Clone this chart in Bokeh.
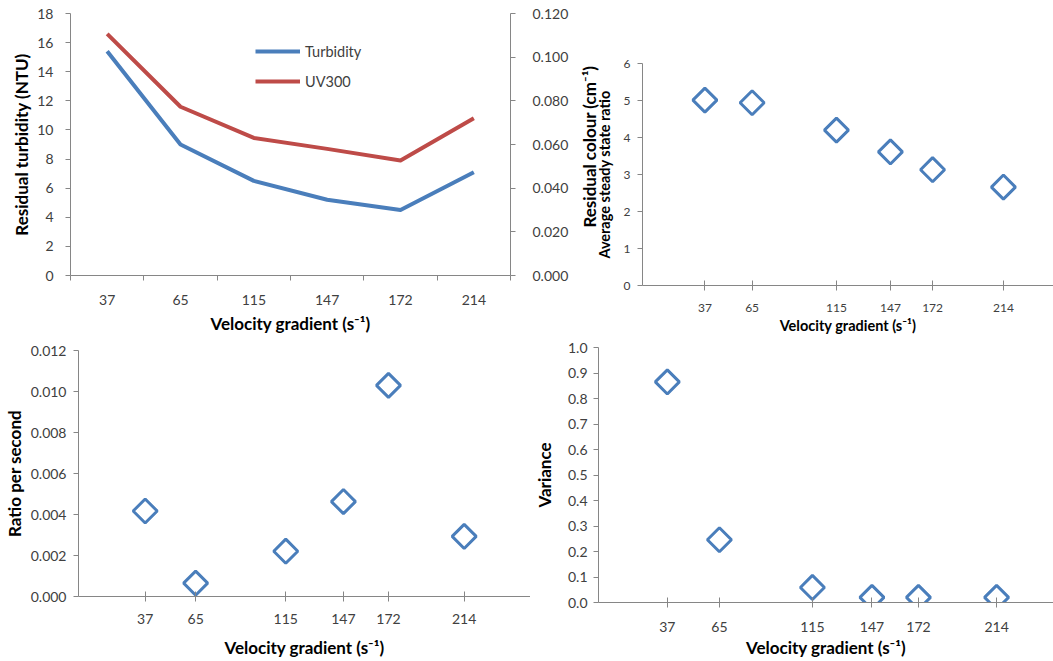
import math
from bokeh.plotting import figure
from bokeh.models import (Range1d, LinearAxis, FixedTicker, NumeralTickFormatter,
                          Legend, LegendItem, CustomJSTickFormatter, Div)
from bokeh.layouts import column, row
from bokeh.embed import file_html
from bokeh.resources import INLINE

# ---------------- data ----------------
gradients = [37, 65, 115, 147, 172, 214]
grad_labels = ["37", "65", "115", "147", "172", "214"]
turbidity = [15.4, 9.0, 6.5, 5.2, 4.5, 7.1]
uv300 = [0.1107, 0.0773, 0.0630, 0.0580, 0.0527, 0.0720]
steady_ratio = [5.01, 4.94, 4.20, 3.61, 3.13, 2.66]
ratio_per_second = [0.00417, 0.00065, 0.00221, 0.00463, 0.01030, 0.00293]
variance = [0.865, 0.246, 0.059, 0.020, 0.020, 0.020]

turb_ticks = [0, 2, 4, 6, 8, 10, 12, 14, 16, 18]
uv_ticks = [0.0, 0.02, 0.04, 0.06, 0.08, 0.10, 0.12]
ratio_ticks = [0, 1, 2, 3, 4, 5, 6]
rps_ticks = [0.0, 0.002, 0.004, 0.006, 0.008, 0.010, 0.012]
var_ticks = [0.0, 0.1, 0.2, 0.3, 0.4, 0.5, 0.6, 0.7, 0.8, 0.9, 1.0]

XTITLE = "Velocity gradient (s\u207b\u00b9)"
COLOUR_TITLE = "Residual colour (cm\u207b\u00b9)"

FONT = "Lato"
BLUE = "#4A7EBB"
RED = "#BE4B48"
AXIS = "#868686"
TXT = "#404040"


def style_axis(ax, size, title_size, standoff, title_standoff, tick_in=0, tick_out=5):
    ax.axis_line_color = AXIS
    ax.major_tick_line_color = AXIS
    ax.minor_tick_line_color = None
    ax.major_tick_in = tick_in
    ax.major_tick_out = tick_out
    ax.major_label_text_font = FONT
    ax.major_label_text_font_size = f"{size}px"
    ax.major_label_text_color = TXT
    ax.major_label_standoff = standoff
    ax.axis_label_text_font = FONT
    ax.axis_label_text_font_style = "bold"
    ax.axis_label_text_font_size = f"{title_size}px"
    ax.axis_label_text_color = "#000000"
    ax.axis_label_standoff = title_standoff


def base(width, height, xr, yr, left, right, top, bottom):
    p = figure(width=width, height=height, x_range=xr, y_range=yr,
               output_backend="svg", toolbar_location=None,
               min_border_left=left, min_border_right=right,
               min_border_top=top, min_border_bottom=bottom)
    p.grid.visible = False
    p.outline_line_color = None
    p.background_fill_color = "white"
    return p


# ---------------- panel A: lines, twin axes ----------------
pos = [i + 0.5 for i in range(len(grad_labels))]
A = base(581, 336, Range1d(0, len(grad_labels)), Range1d(0, 18), 70, 71, 13, 59)
A.extra_y_ranges = {"uv": Range1d(0, 0.12)}
lt = A.line(pos, turbidity, line_color=BLUE, line_width=4, line_join="round")
lu = A.line(pos, uv300, y_range_name="uv", line_color=RED, line_width=4, line_join="round")

xa = A.xaxis[0]
xa.ticker = FixedTicker(ticks=pos, minor_ticks=list(range(len(grad_labels) + 1)))
xa.formatter = CustomJSTickFormatter(args=dict(labels=grad_labels),
                                     code="return labels[Math.floor(tick)];")
style_axis(xa, 14, 17, 14, 5, tick_in=0, tick_out=0)
xa.minor_tick_line_color = AXIS
xa.minor_tick_in = 0
xa.minor_tick_out = 5
xa.axis_label = XTITLE

ya = A.yaxis[0]
ya.ticker = FixedTicker(ticks=turb_ticks)
style_axis(ya, 14, 17, 12, 2)
ya.axis_label = "Residual turbidity (NTU)"

ra = LinearAxis(y_range_name="uv", ticker=FixedTicker(ticks=uv_ticks),
                formatter=NumeralTickFormatter(format="0.000"))
style_axis(ra, 14, 17, 17, 0)
A.add_layout(ra, "right")

legend = Legend(items=[LegendItem(label="Turbidity", renderers=[lt]),
                       LegendItem(label="UV300", renderers=[lu])],
                location=(185, 184), padding=0, margin=0, spacing=10,
                glyph_width=45, glyph_height=20, label_height=20, label_standoff=5,
                label_text_font=FONT, label_text_font_size="14.5px", label_text_color=TXT,
                background_fill_alpha=0, border_line_color=None)
A.add_layout(legend)

# title of the right (colour) axis, rotated to read bottom-to-top
colour_title = Div(
    text=('<div style="height:336px;width:11px;display:flex;align-items:center;'
          'justify-content:center;overflow:visible;">'
          '<span style="writing-mode:vertical-rl;transform:rotate(180deg);'
          f'font-family:{FONT};font-weight:bold;font-size:17px;color:#000000;'
          'white-space:nowrap;line-height:1;margin-bottom:42px;margin-left:6px;">'
          f'{COLOUR_TITLE}</span></div>'),
    width=11, height=336, margin=0, styles={"overflow": "visible"})


def scatter_panel(width, height, yvals, xend, yr, yticks, yfmt, ylabel,
                  left, top, bottom, tick_size, title_size, xstand, xtstand, ystand, ytstand):
    p = base(width, height, Range1d(0, xend), yr, left, 0, top, bottom)
    p.border_fill_alpha = 0
    p.scatter(gradients, yvals, marker="square", angle=math.pi / 4, size=17,
              fill_color=None, line_color=BLUE, line_width=3)
    x = p.xaxis[0]
    x.ticker = FixedTicker(ticks=gradients)
    style_axis(x, tick_size, title_size, xstand, xtstand, tick_in=5, tick_out=5)
    x.axis_label = XTITLE
    y = p.yaxis[0]
    y.ticker = FixedTicker(ticks=yticks)
    if yfmt:
        y.formatter = NumeralTickFormatter(format=yfmt)
    style_axis(y, tick_size, title_size, ystand, ytstand)
    y.axis_label = ylabel
    return p


B = scatter_panel(461, 336, steady_ratio, 243.7, Range1d(0, 6), ratio_ticks, None,
                  "Average steady state ratio", 48, 63, 50, 12, 14.5, 13, 2, 7, 8)
C = scatter_panel(530, 325, ratio_per_second, 250.8, Range1d(0, 0.012), rps_ticks, "0.000",
                  "Ratio per second", 78, 14, 65, 14, 17, 12, 10, 7, 3)
D = scatter_panel(523, 325, variance, 244.6, Range1d(0, 1.0), var_ticks, "0.0",
                  "Variance", 67, 11, 59, 14, 17, 14, 2, 6, 10)

layout = column(row(column(A), colour_title, column(B)), row(column(C), column(D)))
open("out.html", "w").write(file_html(layout, INLINE))
